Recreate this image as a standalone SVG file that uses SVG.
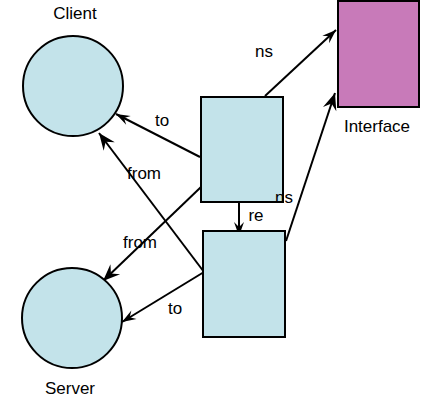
<svg xmlns="http://www.w3.org/2000/svg" width="430" height="420" viewBox="0 0 430 420">
<style>
.n{fill:#c3e3ea;stroke:#000;stroke-width:2}
.i{fill:#c87ab9;stroke:#000;stroke-width:2}
.e{stroke:#000;stroke-width:2;fill:none}
text{font-family:"Liberation Sans",Arial,sans-serif;font-size:17px;fill:#000}
.c{text-anchor:middle}
</style>
<defs>
<marker id="big" markerUnits="userSpaceOnUse" markerWidth="20" markerHeight="20" refX="0" refY="0" viewBox="-18 -9 20 18" orient="auto" overflow="visible">
<path d="M0,0 L-17,-7 L-11,0 L-17,7 Z" fill="#000"/>
</marker>
<marker id="small" markerUnits="userSpaceOnUse" markerWidth="20" markerHeight="20" refX="0" refY="0" viewBox="-18 -9 20 18" orient="auto" overflow="visible">
<path d="M0,0 L-14,-5 L-9,0 L-14,5 Z" fill="#000"/>
</marker>
</defs>
<g id="connectors">
<line class="e" x1="265" y1="96" x2="336" y2="30" marker-end="url(#small)"/>
<line class="e" x1="200" y1="157" x2="116" y2="114" marker-end="url(#small)"/>
<line class="e" x1="204" y1="272" x2="99" y2="133" marker-end="url(#big)"/>
<line class="e" x1="201" y1="187" x2="103" y2="281" marker-end="url(#big)"/>
<line class="e" x1="204" y1="272" x2="122" y2="322" marker-end="url(#small)"/>
<line class="e" x1="239" y1="203" x2="239" y2="236" marker-end="url(#small)"/>
<line class="e" x1="286" y1="241" x2="335" y2="93" marker-end="url(#big)"/>
<text x="264" y="57" class="c">ns</text>
<text x="162" y="126" class="c">to</text>
<text x="144" y="179" class="c">from</text>
<text x="140" y="248" class="c">from</text>
<text x="175" y="314" class="c">to</text>
<text x="256" y="221" class="c">re</text>
</g>
<g id="client">
<circle class="n" cx="73" cy="86" r="50"/>
<text x="75" y="19" class="c">Client</text>
</g>
<g id="server">
<circle class="n" cx="72" cy="318" r="50"/>
<text x="70" y="394" class="c">Server</text>
</g>
<g id="interface">
<rect class="i" x="338" y="1" width="81" height="106"/>
<text x="377" y="132" class="c">Interface</text>
</g>
<g id="box1">
<rect class="n" x="201" y="97" width="82" height="105"/>
</g>
<g id="box2">
<rect class="n" x="203" y="231" width="82" height="106"/>
</g>
<text x="284" y="203" class="c">ns</text>
</svg>
